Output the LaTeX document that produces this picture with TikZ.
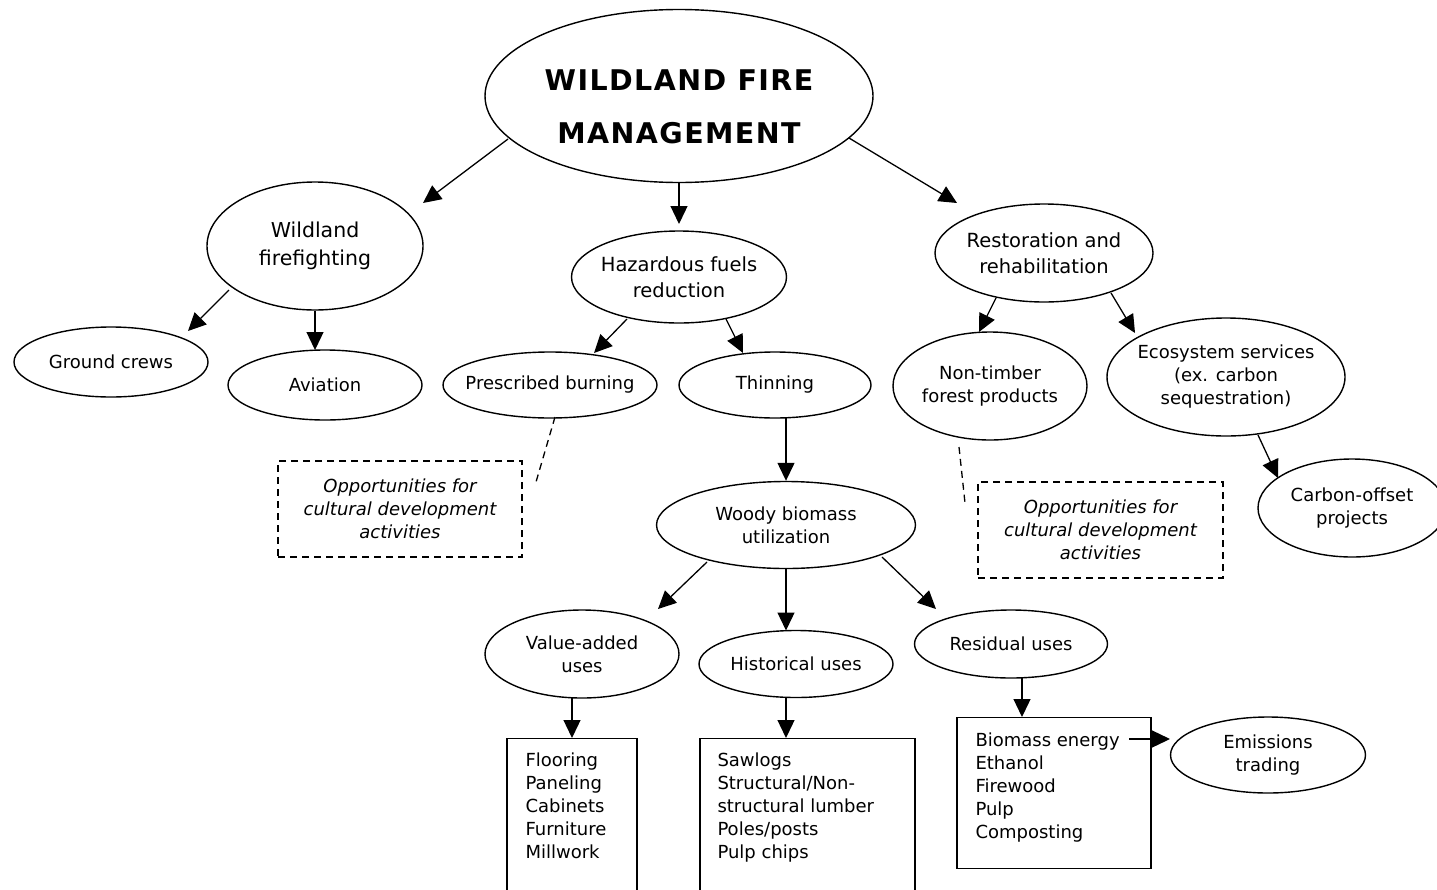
\documentclass[tikz,border=0pt]{standalone}
\usepackage{fontspec}
\setmainfont{DejaVu Sans}
\usetikzlibrary{shapes.geometric,arrows.meta,calc}
\begin{document}
\begin{tikzpicture}[x=1pt,y=-1pt,
  ell/.style={ellipse, draw, line width=1.4pt, inner sep=-15pt, align=center},
  sm/.style={font=\fontsize{18}{23}\selectfont},
  md/.style={font=\fontsize{19.5}{25.5}\selectfont},
  lg/.style={font=\fontsize{20.5}{28}\selectfont},
  arr/.style={line width=1.3pt, -{Triangle[length=18pt,width=17pt]}},
  dsh/.style={line width=1.3pt, dash pattern=on 7pt off 5pt},
  boxnode/.style={draw, line width=1.4pt, inner sep=0pt},
  dbox/.style={draw, line width=1.3pt, dash pattern=on 7pt off 5pt, inner sep=0pt, align=center, font=\fontsize{18}{23}\selectfont\itshape},
  btext/.style={anchor=north west, align=left, inner sep=0pt, font=\fontsize{18}{23}\selectfont}
]
\useasboundingbox (0,0) rectangle (1437,889);
\clip (0,0) rectangle (1437,889);

% title
\node[ell, minimum width=388pt, minimum height=173pt] (title) at (679,96) {};
\node[align=center, inner sep=0pt, font=\fontsize{28.5}{53}\selectfont\bfseries\addfontfeatures{LetterSpace=5}] (ttl) at (679,107) {WILDLAND FIRE\\MANAGEMENT};

% level 1
\node[ell, lg, minimum width=216pt, minimum height=128pt] (wf) at (315,246) {Wildland\\firefighting};
\node[ell, md, minimum width=215pt, minimum height=92pt] (haz) at (679,277) {Hazardous fuels\\reduction};
\node[ell, md, minimum width=218pt, minimum height=98pt] (rest) at (1044,253) {Restoration and\\rehabilitation};

% level 2
\node[ell, sm, minimum width=194pt, minimum height=70pt] (gc) at (111,362) {Ground crews};
\node[ell, sm, minimum width=194pt, minimum height=70pt] (av) at (325,385) {Aviation};
\node[ell, sm, minimum width=214pt, minimum height=66pt] (pb) at (550,385) {Prescribed burning};
\node[ell, sm, minimum width=192pt, minimum height=66pt] (th) at (775,385) {Thinning};
\node[ell, sm, minimum width=194pt, minimum height=108pt] (ntfp) at (990,386) {Non-timber\\forest products};
\node[ell, sm, minimum width=238pt, minimum height=118pt] (eco) at (1226,377) {Ecosystem services\\(ex. carbon\\sequestration)};
\node[ell, sm, minimum width=188pt, minimum height=98pt] (co) at (1352,508) {Carbon-offset\\projects};

% dashed boxes
\node[dbox, minimum width=244pt, minimum height=96pt] (box1) at (400,509) {Opportunities for\\cultural development\\activities};
\node[dbox, minimum width=245pt, minimum height=96pt] (box2) at (1100.5,530) {Opportunities for\\cultural development\\activities};

% woody
\node[ell, sm, minimum width=259pt, minimum height=87pt] (woody) at (786,525) {Woody biomass\\utilization};
\node[ell, sm, minimum width=194pt, minimum height=88pt] (va) at (582,654) {Value-added\\uses};
\node[ell, sm, minimum width=194pt, minimum height=67pt] (hist) at (796,664) {Historical uses};
\node[ell, sm, minimum width=193pt, minimum height=68pt] (res) at (1011,644) {Residual uses};
\node[ell, sm, minimum width=195pt, minimum height=76pt] (em) at (1268,755) {Emissions\\trading};

% boxes
\node[boxnode, anchor=north, minimum width=130pt, minimum height=170pt] (vbox) at (572,738) {};
\node[boxnode, anchor=north, minimum width=215pt, minimum height=170pt] (hbox) at (807.5,738) {};
\node[boxnode, anchor=north, minimum width=194pt, minimum height=151pt] (rbox) at (1054,717) {};
\node[btext] (vtx) at ($(vbox.north west)+(19,15)$) {Flooring\\Paneling\\Cabinets\\Furniture\\Millwork};
\node[btext] (htx) at ($(hbox.north west)+(18,15)$) {Sawlogs\\Structural/Non-\\structural lumber\\Poles/posts\\Pulp chips};
\node[btext] (rtx) at ($(rbox.north west)+(19,16)$) {Biomass energy\\Ethanol\\Firewood\\Pulp\\Composting};

% arrows
\draw[arr] ($(title.center)+(-171,43)$) -- ($(wf.center)+(108,-43)$);
\draw[arr] (title.south) -- ($(haz.center)+(0,-53)$);
\draw[arr] ($(title.center)+(170,42)$) -- ($(rest.center)+(-87,-50)$);
\draw[arr] ($(wf.center)+(-86,44)$) -- ($(gc.center)+(77,-31)$);
\draw[arr] (wf.south) -- ($(av.center)+(-10,-35)$);
\draw[arr] ($(haz.center)+(-52,42)$) -- ($(pb.center)+(44,-32)$);
\draw[arr] ($(haz.center)+(47,42)$) -- ($(th.center)+(-32,-32)$);
\draw[arr] ($(th.center)+(11,33)$) -- (woody.north);
\draw[arr] ($(woody.center)+(-79,37)$) -- ($(va.center)+(76,-45)$);
\draw[arr] (woody.south) -- ($(hist.center)+(-10,-33.5)$);
\draw[arr] ($(woody.center)+(96,32)$) -- ($(res.center)+(-75,-35)$);
\draw[arr] ($(va.center)+(-10,44)$) -- (vbox.north);
\draw[arr] ($(hist.center)+(-10,33.5)$) -- ($(hbox.north)+(-21.5,0)$);
\draw[arr] ($(res.center)+(11,34)$) -- ($(rbox.north)+(-32,0)$);
\draw[arr] ($(rbox.north west)+(173,22)$) -- ($(em.center)+(-98,-16)$);
\draw[arr] ($(rest.center)+(-48,45)$) -- ($(ntfp.center)+(-11,-54)$);
\draw[arr] ($(rest.center)+(67,40)$) -- ($(eco.center)+(-91,-44)$);
\draw[arr] ($(eco.center)+(32,58)$) -- ($(co.center)+(-74,-30)$);

% dashed connectors
\draw[dsh] ($(pb.center)+(5,32)$) -- ($(box1.center)+(136,-27)$);
\draw[dsh] ($(ntfp.center)+(-31,61)$) -- ($(box2.center)+(-135.5,-27)$);
\end{tikzpicture}
\end{document}
